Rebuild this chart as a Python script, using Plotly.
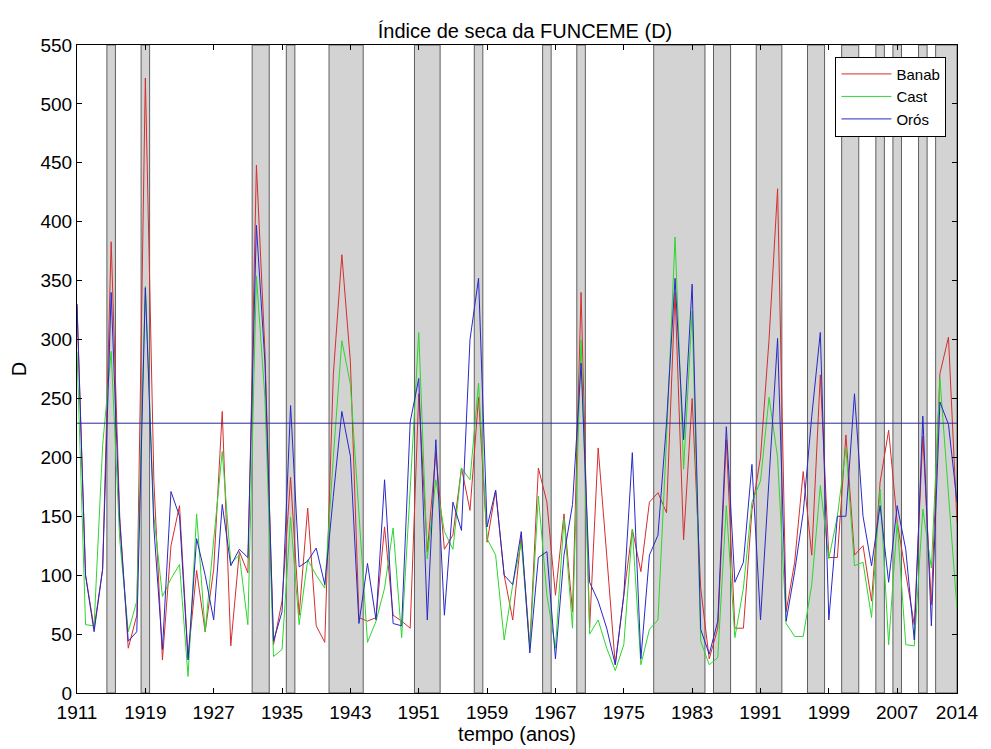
import plotly.graph_objects as go

years = list(range(1911, 2015))

banab = [330, 100, 55, 105, 383, 150, 38, 66, 522, 180,
         28, 125, 159, 30, 104, 52, 105, 239, 40, 120,
         102, 448, 290, 41, 78, 183, 66, 157, 57, 43,
         270, 372, 281, 64, 61, 64, 141, 66, 61, 55,
         254, 120, 204, 122, 134, 191, 155, 251, 128, 172,
         100, 62, 134, 40, 191, 162, 83, 152, 69, 340,
         55, 208, 117, 24, 83, 139, 103, 162, 170, 153,
         340, 130, 250, 89, 29, 55, 215, 55, 55, 155,
         200, 300, 428, 69, 111, 188, 117, 270, 115, 115,
         219, 117, 125, 78, 179, 223, 145, 100, 58, 218,
         75, 271, 302, 145]

cast = [290, 58, 57, 210, 290, 130, 52, 78, 345, 150,
        82, 97, 109, 14, 152, 52, 130, 205, 110, 117,
        58, 354, 250, 31, 37, 149, 58, 113, 100, 89,
        200, 299, 262, 150, 43, 61, 89, 140, 47, 173,
        306, 114, 181, 137, 122, 191, 181, 263, 131, 117,
        45, 92, 128, 38, 167, 83, 38, 148, 55, 300,
        50, 62, 38, 19, 41, 139, 24, 54, 62, 215,
        387, 190, 324, 44, 24, 30, 159, 47, 89, 162,
        180, 251, 200, 59, 48, 48, 92, 176, 114, 150,
        208, 108, 111, 64, 173, 41, 145, 41, 40, 156,
        106, 267, 173, 71]

oros = [330, 100, 52, 105, 340, 145, 44, 52, 344, 140,
        37, 171, 150, 28, 131, 100, 62, 160, 108, 122,
        115, 397, 280, 44, 69, 244, 107, 112, 123, 92,
        167, 239, 201, 59, 110, 62, 181, 59, 57, 230,
        267, 62, 215, 66, 162, 138, 300, 352, 141, 172,
        100, 92, 137, 34, 115, 120, 29, 117, 160, 280,
        94, 78, 55, 24, 83, 204, 29, 117, 134, 229,
        352, 215, 347, 54, 33, 61, 226, 94, 111, 194,
        62, 180, 301, 61, 103, 153, 235, 306, 62, 150,
        150, 254, 150, 108, 159, 94, 159, 122, 45, 235,
        57, 247, 228, 162]

drought_years = [1915, 1919, 1932, 1933, 1936, 1941, 1942, 1943, 1944,
                 1951, 1952, 1953, 1958, 1966, 1970,
                 1979, 1980, 1981, 1982, 1983, 1984, 1986, 1987,
                 1991, 1992, 1993, 1997, 1998, 2001, 2002, 2005, 2007,
                 2010, 2012, 2013, 2014]

threshold = 229
x_ticks = [1911, 1919, 1927, 1935, 1943, 1951, 1959, 1967, 1975, 1983, 1991, 1999, 2007, 2014]
y_ticks = list(range(0, 551, 50))

# group consecutive drought years into periods
periods = []
for yv in drought_years:
    if periods and yv == periods[-1][1] + 1:
        periods[-1][1] = yv
    else:
        periods.append([yv, yv])

shapes = []
for a, b in periods:
    x0 = max(a - 0.5, years[0])
    x1 = min(b + 0.5, years[-1])
    shapes.append(dict(type="rect", xref="x", yref="y", x0=x0, x1=x1, y0=0, y1=550,
                       fillcolor="rgb(211,211,211)",
                       line=dict(color="rgb(95,95,95)", width=1), layer="below"))

fig = go.Figure()
fig.add_trace(go.Scatter(x=years, y=banab, mode="lines", name="Banab",
                         line=dict(color="rgb(215,45,45)", width=1)))
fig.add_trace(go.Scatter(x=years, y=cast, mode="lines", name="Cast",
                         line=dict(color="rgb(45,215,45)", width=1)))
fig.add_trace(go.Scatter(x=years, y=oros, mode="lines", name="Orós",
                         line=dict(color="rgb(40,40,200)", width=1)))
fig.add_trace(go.Scatter(x=[years[0], years[-1]], y=[threshold, threshold], mode="lines",
                         showlegend=False, line=dict(color="rgb(40,40,150)", width=1)))

font_family = "Liberation Sans, Arial, sans-serif"
fig.update_layout(
    width=991, height=749,
    margin=dict(l=77, r=22, t=45, b=50),
    paper_bgcolor="white", plot_bgcolor="white",
    shapes=shapes,
    font=dict(family=font_family, size=18, color="black"),
    title=dict(text="Índice de seca da FUNCEME (D)", x=525 / 991, xanchor="center",
               y=1 - 31 / 749, yanchor="middle", font=dict(size=20)),
    xaxis=dict(range=[years[0], years[-1]], tickvals=x_ticks, ticktext=[str(t) for t in x_ticks],
               showgrid=False, zeroline=False, showline=True, linecolor="black", linewidth=1,
               mirror="ticks", ticks="inside", ticklen=5, tickcolor="black",
               ticklabelstandoff=2, ticklabeloverflow="allow",
               title=dict(text="tempo (anos)", standoff=0, font=dict(size=20)),
               tickfont=dict(size=19)),
    yaxis=dict(range=[0, 550], tickvals=y_ticks, showgrid=False, zeroline=False,
               showline=True, linecolor="black", linewidth=1, mirror="ticks",
               ticks="inside", ticklen=5, tickcolor="black",
               title=dict(text="D", standoff=8, font=dict(size=20)),
               tickfont=dict(size=19)),
    legend=dict(x=0.988, y=0.982, xanchor="right", yanchor="top",
                bgcolor="white", bordercolor="black", borderwidth=1,
                font=dict(size=15), tracegroupgap=0, itemwidth=50),
    showlegend=True,
)

fig.write_html("out.html")
